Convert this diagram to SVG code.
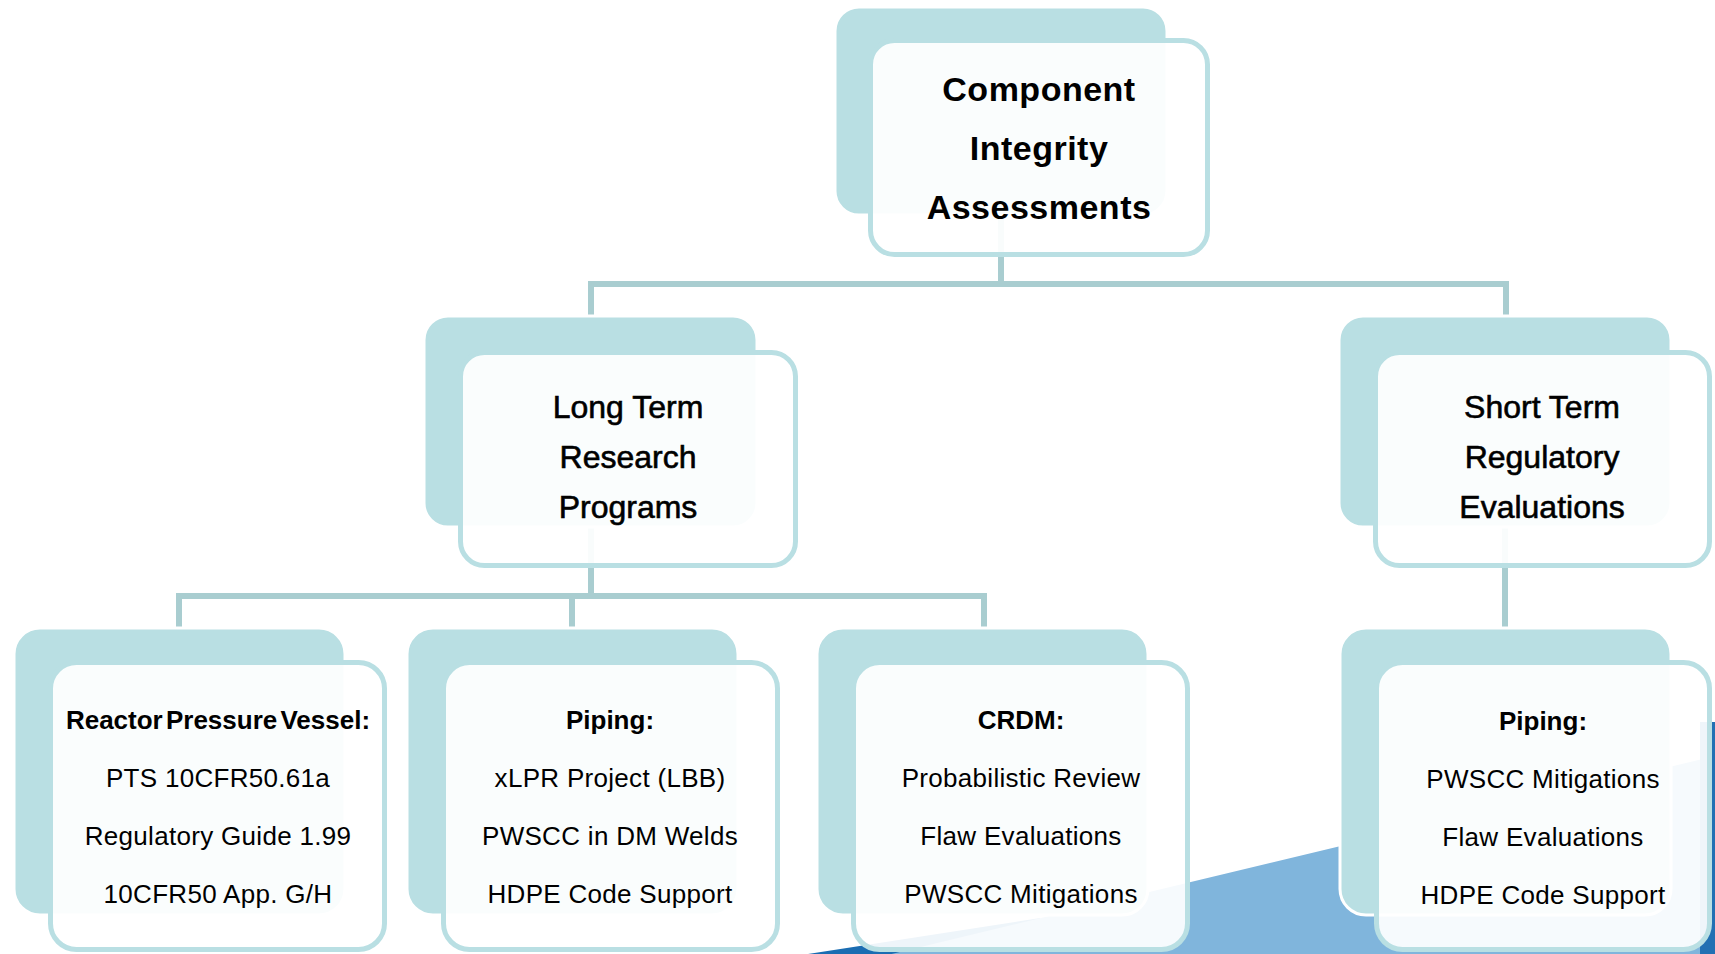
<svg xmlns="http://www.w3.org/2000/svg" width="1715" height="954" viewBox="0 0 1715 954">
  <style>
    .back { fill: #b9dfe3; stroke: #ffffff; stroke-width: 3; }
    .front { fill: #ffffff; fill-opacity: 0.93; stroke: #b9dfe3; stroke-width: 5; }
    .conn { fill: none; stroke: #a9cdd0; stroke-width: 6; stroke-linejoin: miter; }
    text { font-family: "Liberation Sans", Arial, sans-serif; fill: #000; text-anchor: middle; }
    .t1 { font-size: 34px; font-weight: bold; letter-spacing: 0.5px; }
    .t2 { font-size: 32px; stroke: #000; stroke-width: 0.6px; }
    .hd { font-size: 26px; font-weight: bold; word-spacing: -4px; }
    .it { font-size: 26px; letter-spacing: 0.3px; }
  </style>

  <!-- background swoosh -->
  <g id="background">
    <path d="M808,954 L1040,918 L1040,954 Z" fill="#1a6db2"/>
    <path d="M850,964 L1715,756 L1715,954 L850,954 Z" fill="#80b5dc"/>
    <rect x="1700" y="722" width="15" height="232" fill="#2270b3"/>
  </g>

  <!-- connectors -->
  <g id="connectors">
    <path class="conn" d="M1001,215 V284"/>
    <path class="conn" d="M591,316 V284 H1506 V316"/>
    <path class="conn" d="M591,527 V596"/>
    <path class="conn" d="M179,628 V596 H984 V628"/>
    <path class="conn" d="M572,596 V628"/>
    <path class="conn" d="M1505,527 V631"/>
  </g>

  <!-- root -->
  <g id="node-root">
    <rect class="back" x="835" y="7" width="332" height="208" rx="24"/>
    <rect class="front" x="870.5" y="40.5" width="337" height="214" rx="24"/>
    <text class="t1" x="1039" y="101">Component</text>
    <text class="t1" x="1039" y="160">Integrity</text>
    <text class="t1" x="1039" y="219">Assessments</text>
  </g>

  <!-- second level -->
  <g id="node-long-term">
    <rect class="back" x="424" y="316" width="333" height="211" rx="24"/>
    <rect class="front" x="460.5" y="352.5" width="335" height="213" rx="24"/>
    <text class="t2" x="628" y="418">Long Term</text>
    <text class="t2" x="628" y="468">Research</text>
    <text class="t2" x="628" y="518">Programs</text>
  </g>

  <g id="node-short-term">
    <rect class="back" x="1339" y="316" width="332" height="211" rx="24"/>
    <rect class="front" x="1375.5" y="352.5" width="334" height="213" rx="24"/>
    <text class="t2" x="1542" y="418">Short Term</text>
    <text class="t2" x="1542" y="468">Regulatory</text>
    <text class="t2" x="1542" y="518">Evaluations</text>
  </g>

  <!-- third level -->
  <g id="node-rpv">
    <rect class="back" x="14" y="628" width="331" height="287" rx="26"/>
    <rect class="front" x="50.5" y="662.5" width="334" height="287" rx="26"/>
    <text class="hd" x="218" y="729">Reactor Pressure Vessel:</text>
    <text class="it" x="218" y="787">PTS 10CFR50.61a</text>
    <text class="it" x="218" y="845">Regulatory Guide 1.99</text>
    <text class="it" x="218" y="903">10CFR50 App. G/H</text>
  </g>

  <g id="node-piping-lt">
    <rect class="back" x="407" y="628" width="331" height="287" rx="26"/>
    <rect class="front" x="443.5" y="662.5" width="334" height="287" rx="26"/>
    <text class="hd" x="610" y="729">Piping:</text>
    <text class="it" x="610" y="787">xLPR Project (LBB)</text>
    <text class="it" x="610" y="845">PWSCC in DM Welds</text>
    <text class="it" x="610" y="903">HDPE Code Support</text>
  </g>

  <g id="node-crdm">
    <rect class="back" x="817" y="628" width="331" height="287" rx="26"/>
    <rect class="front" x="853.5" y="662.5" width="334" height="287" rx="26"/>
    <text class="hd" x="1021" y="729">CRDM:</text>
    <text class="it" x="1021" y="787">Probabilistic Review</text>
    <text class="it" x="1021" y="845">Flaw Evaluations</text>
    <text class="it" x="1021" y="903">PWSCC Mitigations</text>
  </g>

  <g id="node-piping-st">
    <rect class="back" x="1340" y="628" width="331" height="287" rx="26"/>
    <rect class="front" x="1376.5" y="662.5" width="333" height="287" rx="26"/>
    <text class="hd" x="1543" y="730">Piping:</text>
    <text class="it" x="1543" y="788">PWSCC Mitigations</text>
    <text class="it" x="1543" y="846">Flaw Evaluations</text>
    <text class="it" x="1543" y="904">HDPE Code Support</text>
  </g>
</svg>
